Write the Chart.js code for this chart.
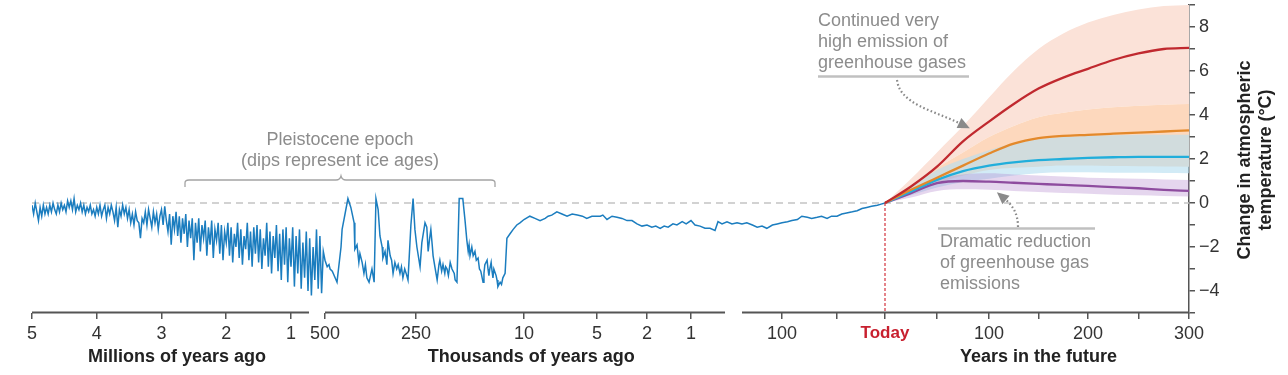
<!DOCTYPE html>
<html><head><meta charset="utf-8">
<script src="https://cdn.jsdelivr.net/npm/chart.js@4.4.1/dist/chart.umd.min.js"></script>
<style>html,body{margin:0;padding:0;background:#fff;}#wrap{width:1288px;height:375px;}</style>
</head><body><div id="wrap"><canvas id="c" width="1288" height="375"></canvas></div>
<script>
// ---------------- DATA ----------------
// Deep past: millions of years ago
const deepAgesMa = [
5.000,4.975,4.950,4.925,4.900,4.875,4.850,4.825,4.800,4.775,
4.750,4.725,4.700,4.675,4.650,4.625,4.600,4.575,4.550,4.525,
4.500,4.475,4.450,4.425,4.400,4.375,4.350,4.325,4.300,4.275,
4.250,4.225,4.200,4.175,4.150,4.125,4.100,4.075,4.050,4.025,
4.000,3.975,3.950,3.925,3.900,3.875,3.850,3.825,3.800,3.775,
3.750,3.725,3.700,3.675,3.650,3.625,3.600,3.575,3.550,3.525,
3.500,3.475,3.450,3.425,3.400,3.375,3.350,3.325,3.300,3.275,
3.250,3.225,3.200,3.175,3.150,3.125,3.100,3.075,3.050,3.025,
3.000,2.975,2.950,2.925,2.900,2.875,2.850,2.825,2.800,2.775,
2.750,2.725,2.700,2.675,2.650,2.625,2.600,2.575,2.550,2.525,
2.500,2.475,2.450,2.425,2.400,2.375,2.350,2.325,2.300,2.275,
2.250,2.225,2.200,2.175,2.150,2.125,2.100,2.075,2.050,2.025,
2.000,1.975,1.950,1.925,1.900,1.875,1.850,1.825,1.800,1.775,
1.750,1.725,1.700,1.675,1.650,1.625,1.600,1.575,1.550,1.525,
1.500,1.475,1.450,1.425,1.400,1.375,1.350,1.325,1.300,1.275,
1.250,1.225,1.200,1.175,1.150,1.125,1.100,1.075,1.050,1.025,
1.000,0.975,0.950,0.925,0.900,0.875,0.850,0.825,0.800,0.775,
0.750,0.725,0.700,0.675,0.650,0.625,0.600,0.575,0.550,0.525];
const deepTemps = [
-0.1,-0.5,0.0,-0.4,-0.8,-0.2,-0.6,-0.1,-0.5,-0.2,
-0.5,-0.1,-0.4,0.0,-0.3,-0.5,-0.1,-0.4,0.0,-0.3,
-0.1,-0.4,0.1,-0.2,0.1,-0.3,0.2,-0.4,-0.1,-0.3,
0.0,-0.4,-0.1,-0.5,-0.2,-0.4,-0.1,-0.5,-0.3,-0.6,
-0.2,-0.5,-0.1,-0.6,-0.3,-0.1,-0.7,-0.2,-0.5,-0.1,
-0.4,-0.8,-0.2,-1.1,-0.3,-0.6,-0.1,-0.5,-0.2,-0.7,
-0.3,-0.9,-0.5,-1.0,-0.4,-0.8,-0.9,-1.6,-0.7,-0.9,
-0.4,-1.0,-0.3,-0.7,-1.1,-0.4,-0.9,-0.5,-1.2,-0.6,
-0.3,-1.0,-0.15,-0.8,-1.3,-0.5,-1.9,-0.6,-1.2,-0.4,
-1.5,-0.6,-1.8,-0.7,-1.4,-0.5,-2.0,-0.8,-1.6,-0.7,
-2.6,-0.9,-1.8,-0.7,-2.2,-1.0,-1.6,-0.8,-2.4,-1.1,
-1.9,-0.8,-2.5,-1.2,-1.7,-0.9,-2.3,-1.0,-2.6,-1.3,
-1.8,-0.9,-2.4,-1.1,-2.7,-1.4,-2.0,-0.9,-2.5,-1.2,
-2.8,-1.5,-2.1,-0.9,-2.6,-1.3,-2.9,-1.1,-2.3,-1.0,
-2.7,-1.2,-3.0,-1.6,-2.4,-0.9,-2.9,-1.3,-3.2,-1.5,
-2.5,-1.0,-3.1,-1.4,-3.5,-1.2,-2.8,-1.1,-3.6,-1.6,
-2.9,-1.1,-3.8,-1.5,-3.2,-1.2,-3.9,-1.8,-3.4,-1.3,
-4.0,-1.6,-4.2,-2.0,-3.5,-1.2,-3.9,-1.5,-4.1,-2.2];

// Ice ages and Holocene: thousands of years ago
const glacialAgesKa = [
500,494,489,486,480,467,456,453,445,437,429,420,418,412,407,404,398,393,389,385,379,375,371,365,
360,354,349,343,341,335,330,327,321,317,313,308,303,299,294,290,286,281,277,272,
264,258,253,248,241,237,230,226,223,219,217,214,212,208,203,199,197,193,190,186,184,181,178,174,170,165,163,159,
154,146,141,137,134,132,130,126,123,119,116,112,109,106,101,99,97,92,90,88,86,83,81,79,77,72,70,68,63,60,57,52,
48,41,34,26,19,10,
9.6,9.25,8.9,8.55,8.35,8.1,7.75,7.4,7.05,6.7,6.35,6.0,5.7,5.35,5.0,
4.8,4.65,4.4,4.1,3.8,3.5,3.2,2.9,2.6,2.3,2.0,
1.89,1.8,1.7,1.61,1.52,1.41,1.32,1.2,1.11,1.0];
const glacialTemps = [
-2.6,-2.9,-2.8,-3.0,-3.1,-3.6,-2.0,-1.2,-0.5,0.2,-0.2,-0.9,-2.1,-1.9,-2.7,-2.3,-2.7,-3.2,-2.8,-3.4,-3.6,-3.3,-3.0,-3.6,
0.2,-0.3,-1.5,-2.0,-2.5,-2.2,-2.8,-1.7,-2.4,-2.6,-3.2,-2.7,-3.0,-2.8,-3.2,-2.9,-3.4,-3.0,-3.2,-3.5,
-1.0,0.2,-1.2,-2.0,-2.9,-1.8,-0.9,-1.1,-2.2,-1.5,-1.2,-1.9,-2.4,-2.9,-3.5,-2.8,-2.6,-3.1,-2.8,-3.2,-2.9,-3.0,-3.3,-2.7,-3.0,-3.2,-3.5,-3.6,
0.2,0.2,-0.8,-1.7,-2.2,-1.9,-2.4,-2.0,-2.4,-2.2,-2.6,-2.5,-3.0,-3.1,-3.6,-3.2,-2.8,-2.6,-3.0,-3.3,-3.0,-2.7,-3.1,-3.4,-3.0,-3.3,-3.5,-3.8,-3.6,-3.7,-3.4,-3.2,
-1.6,-1.4,-1.2,-1.0,-0.9,-0.75,
-0.6,-0.7,-0.8,-0.7,-0.6,-0.55,-0.4,-0.5,-0.6,-0.5,-0.55,-0.6,-0.7,-0.6,-0.6,
-0.6,-0.55,-0.75,-0.6,-0.65,-0.7,-0.8,-0.8,-0.95,-1.05,-1.0,
-1.1,-1.05,-1.15,-1.05,-1.1,-0.95,-1.0,-0.85,-0.95,-0.8];

// Recent past: years ago
const recentAgesYr = [933,850,767,683,600,550,483,400,317,233,150,144,137,131,125,119,112,106,100,
95,91,86,82,77,73,68,64,59,55,50,45,40,34,29,24,19,14,8,4,0];
const recentTemps = [-1.0,-1.05,-1.15,-1.15,-1.25,-0.85,-0.95,-0.85,-0.95,-0.9,-0.95,-0.9,-1.0,-1.1,-1.05,-1.15,-1.0,-0.95,-0.9,
-0.85,-0.8,-0.75,-0.6,-0.65,-0.7,-0.65,-0.6,-0.7,-0.6,-0.6,-0.5,-0.45,-0.4,-0.35,-0.25,-0.2,-0.15,-0.1,-0.05,0];

// Future projections: years in the future
const futureYears   = [0,25,50,75,100,125,150,175,200,225,250,275,300];
const veryHigh      = [0,0.75,1.65,2.8,3.7,4.5,5.2,5.7,6.1,6.5,6.8,7.0,7.05];
const veryHighUpper = [0,1.1,2.3,3.5,4.8,6.0,7.0,7.7,8.2,8.55,8.8,8.95,9.0];
const high          = [0,0.6,1.15,1.7,2.25,2.7,2.95,3.05,3.1,3.15,3.2,3.25,3.3];
const highUpper     = [0,0.8,1.6,2.3,3.0,3.5,3.9,4.1,4.25,4.35,4.42,4.47,4.5];
const highLower     = [0,0.4,0.9,1.25,1.5,1.6,1.65,1.7,1.7,1.68,1.67,1.66,1.65];
const medium        = [0,0.52,1.05,1.45,1.7,1.85,1.95,2.0,2.05,2.08,2.1,2.1,2.1];
const mediumUpper   = [0,0.7,1.5,2.0,2.4,2.7,2.9,3.0,3.05,3.08,3.1,3.1,3.1];
const mediumLower   = [0,0.35,0.7,0.95,1.1,1.25,1.35,1.4,1.4,1.38,1.37,1.36,1.35];
const low           = [0,0.45,0.9,1.0,0.97,0.92,0.87,0.82,0.78,0.72,0.67,0.6,0.55];
const lowUpper      = [0,0.6,1.1,1.3,1.35,1.3,1.25,1.2,1.15,1.12,1.1,1.07,1.05];
const lowLower      = [0,0.25,0.55,0.62,0.6,0.55,0.5,0.45,0.42,0.38,0.35,0.32,0.3];

// Tick positions (years relative to today) and labels
const xTickValues = [-5e6,-4e6,-3e6,-2e6,-1e6,-5e5,-2.5e5,-1e4,-5e3,-2e3,-1e3,-100,-50,0,50,100,150,200,250,300];
const xTickLabels = ['5','4','3','2','1','500','250','10','5','2','1','100','','Today','','100','','200','','300'];
const yTickValues = [-5,-4,-3,-2,-1,0,1,2,3,4,5,6,7,8,9];

// ---------------- SEGMENTED TIME SCALE ----------------
const X_STOPS = [[-5e6,0],[-1e6,259],[-5e5,293],[-2.5e5,384],[-1e4,492],[-5e3,565],[-2e3,615],[-1e3,659],
  [-150,710],[-100,750],[-50,805],[0,853],[100,957],[200,1056],[300,1157]];
const X_SEGMENTS = [[-5e6,-7.35e5],[-5e5,-433],[-150,300]];
const LinearBase = Chart.LinearScale || Chart.registry.getScale('linear');
class SegmentedTimeScale extends LinearBase {
  _toUnit(v) {
    const s = X_STOPS;
    if (v <= s[0][0]) return s[0][1];
    for (let i = 1; i < s.length; i++) {
      if (v <= s[i][0]) {
        const a = s[i-1], b = s[i];
        return a[1] + (v - a[0]) / (b[0] - a[0]) * (b[1] - a[1]);
      }
    }
    return s[s.length-1][1];
  }
  _fromUnit(u) {
    const s = X_STOPS;
    if (u <= s[0][1]) return s[0][0];
    for (let i = 1; i < s.length; i++) {
      if (u <= s[i][1]) {
        const a = s[i-1], b = s[i];
        return a[0] + (u - a[1]) / (b[1] - a[1]) * (b[0] - a[0]);
      }
    }
    return s[s.length-1][0];
  }
  getPixelForValue(v) {
    const total = X_STOPS[X_STOPS.length-1][1];
    return this.left + this._toUnit(v) / total * this.width;
  }
  getValueForPixel(p) {
    const total = X_STOPS[X_STOPS.length-1][1];
    return this._fromUnit((p - this.left) / this.width * total);
  }
}
SegmentedTimeScale.id = 'segmentedTime';
Chart.register(SegmentedTimeScale);

// ---------------- BUILD SERIES ----------------
const pastPoints = [];
deepAgesMa.forEach((a, i) => pastPoints.push({x: -a * 1e6, y: deepTemps[i]}));
glacialAgesKa.forEach((a, i) => pastPoints.push({x: -a * 1e3, y: glacialTemps[i]}));
recentAgesYr.forEach((a, i) => pastPoints.push({x: -a, y: recentTemps[i]}));
const fut = arr => futureYears.map((t, i) => ({x: t, y: arr[i]}));

const lineDs = (arr, color) => ({data: fut(arr), borderColor: color, borderWidth: 2.3, pointRadius: 0,
  fill: false, cubicInterpolationMode: 'monotone'});
const bandTop = (arr, color) => ({data: fut(arr), borderColor: 'transparent', borderWidth: 0, pointRadius: 0,
  backgroundColor: color, fill: '+1', cubicInterpolationMode: 'monotone'});
const bandBottom = arr => ({data: fut(arr), borderColor: 'transparent', borderWidth: 0, pointRadius: 0,
  fill: false, cubicInterpolationMode: 'monotone'});

const FONT = '"Liberation Sans", Arial, Helvetica, sans-serif';
Chart.defaults.font.family = FONT;

function dottedArrow(ctx, p0, c1, c2, p1) {
  ctx.save();
  ctx.strokeStyle = '#8a8a8a'; ctx.fillStyle = '#8a8a8a';
  ctx.lineWidth = 2.2; ctx.setLineDash([1.6, 2.4]);
  ctx.beginPath(); ctx.moveTo(p0[0], p0[1]);
  ctx.bezierCurveTo(c1[0], c1[1], c2[0], c2[1], p1[0], p1[1]); ctx.stroke();
  ctx.setLineDash([]);
  const ang = Math.atan2(p1[1] - c2[1], p1[0] - c2[0]);
  const L = 12, W = 5.5;
  const tx = p1[0] + Math.cos(ang) * L, ty = p1[1] + Math.sin(ang) * L;
  ctx.beginPath(); ctx.moveTo(tx, ty);
  ctx.lineTo(p1[0] + Math.cos(ang + Math.PI/2) * W, p1[1] + Math.sin(ang + Math.PI/2) * W);
  ctx.lineTo(p1[0] - Math.cos(ang + Math.PI/2) * W, p1[1] - Math.sin(ang + Math.PI/2) * W);
  ctx.closePath(); ctx.fill();
  ctx.restore();
}

const overlay = {
  id: 'overlay',
  beforeDatasetsDraw(chart) {
    const {ctx, chartArea: a, scales: {y}} = chart;
    const y0 = y.getPixelForValue(0);
    ctx.save();
    ctx.strokeStyle = '#c4c4c4'; ctx.lineWidth = 1.5; ctx.setLineDash([7, 5]);
    ctx.beginPath(); ctx.moveTo(a.left, y0); ctx.lineTo(a.right, y0); ctx.stroke();
    ctx.restore();
  },
  afterDatasetsDraw(chart) {
    const {ctx, chartArea: a, scales: {x, y}} = chart;
    const x0 = x.getPixelForValue(0), y0 = y.getPixelForValue(0);
    ctx.save();
    ctx.strokeStyle = '#d2323c'; ctx.lineWidth = 1.2; ctx.setLineDash([3, 2]);
    ctx.beginPath(); ctx.moveTo(x0, y0); ctx.lineTo(x0, a.bottom); ctx.stroke();
    ctx.restore();
  },
  afterDraw(chart) {
    const {ctx, chartArea: a, scales: {x}} = chart;
    ctx.save();
    // segmented x axis line
    ctx.strokeStyle = '#555'; ctx.lineWidth = 2;
    X_SEGMENTS.forEach(([s, e]) => {
      ctx.beginPath(); ctx.moveTo(x.getPixelForValue(s), a.bottom - 0.5);
      ctx.lineTo(x.getPixelForValue(e), a.bottom - 0.5); ctx.stroke();
    });
    // x axis titles
    ctx.fillStyle = '#222'; ctx.font = 'bold 18px ' + FONT; ctx.textAlign = 'center'; ctx.textBaseline = 'middle';
    [['Millions of years ago', -2.76e6], ['Thousands of years ago', -9500], ['Years in the future', 150]]
      .forEach(([t, v]) => ctx.fillText(t, x.getPixelForValue(v), 357));
    // y axis title (rotated)
    ctx.save();
    ctx.translate(a.right + 56, 160); ctx.rotate(-Math.PI / 2);
    ctx.fillText('Change in atmospheric', 0, 0);
    ctx.restore();
    ctx.save();
    ctx.translate(a.right + 77, 160); ctx.rotate(-Math.PI / 2);
    ctx.fillText('temperature (\u00B0C)', 0, 0);
    ctx.restore();

    // annotations
    ctx.fillStyle = '#8c8c8c'; ctx.font = '18px ' + FONT;
    ctx.textAlign = 'center';
    ctx.fillText('Pleistocene epoch', 340, 140);
    ctx.fillText('(dips represent ice ages)', 340, 161);
    ctx.strokeStyle = '#a4a4a4'; ctx.lineWidth = 1.3;
    ctx.beginPath();
    ctx.moveTo(185, 187); ctx.lineTo(185, 183); ctx.quadraticCurveTo(185, 180, 189, 180);
    ctx.lineTo(336, 180); ctx.quadraticCurveTo(340, 180, 341, 176); ctx.quadraticCurveTo(342, 180, 346, 180);
    ctx.lineTo(491, 180); ctx.quadraticCurveTo(495, 180, 495, 183); ctx.lineTo(495, 187);
    ctx.stroke();

    ctx.textAlign = 'left';
    ctx.fillText('Continued very', 818, 21);
    ctx.fillText('high emission of', 818, 42);
    ctx.fillText('greenhouse gases', 818, 63);
    ctx.fillText('Dramatic reduction', 940, 242);
    ctx.fillText('of greenhouse gas', 940, 263);
    ctx.fillText('emissions', 940, 284);
    ctx.strokeStyle = '#c0c0c0'; ctx.lineWidth = 2.5;
    ctx.beginPath(); ctx.moveTo(818, 76.5); ctx.lineTo(969, 76.5); ctx.stroke();
    ctx.beginPath(); ctx.moveTo(938, 228.5); ctx.lineTo(1095, 228.5); ctx.stroke();
    dottedArrow(ctx, [897, 80], [900, 104], [932, 110], [959, 123]);
    dottedArrow(ctx, [1018, 227], [1018, 214], [1013, 206], [1006, 200]);
    ctx.restore();
  }
};

new Chart(document.getElementById('c'), {
  type: 'line',
  data: {
    datasets: [
      lineDs(veryHigh, '#c0292f'),
      lineDs(high, '#e3892b'),
      lineDs(medium, '#21aedb'),
      lineDs(low, '#8e4c9f'),
      {data: pastPoints, borderColor: '#1b7dbf', borderWidth: 1.5, pointRadius: 0, fill: false, tension: 0},
      bandTop(lowUpper, 'rgba(170,120,200,0.30)'),
      bandBottom(lowLower),
      bandTop(mediumUpper, 'rgba(182,223,240,0.62)'),
      bandBottom(mediumLower),
      bandTop(highUpper, '#fdd8bd'),
      bandBottom(highLower),
      bandTop(veryHighUpper, '#fbe2d8'),
      bandBottom(highUpper)
    ]
  },
  options: {
    responsive: false,
    animation: false,
    devicePixelRatio: 1,
    layout: {padding: {left: 32, top: 5, right: 0, bottom: 0}},
    plugins: {legend: {display: false}, tooltip: {enabled: false}},
    scales: {
      x: {
        type: 'segmentedTime', min: -5e6, max: 300,
        afterBuildTicks: s => { s.ticks = xTickValues.map(v => ({value: v})); },
        afterFit: s => { s.height = 62; s.paddingLeft = 0; s.paddingRight = 0; },
        grid: {drawOnChartArea: false, drawTicks: true, tickLength: 6, color: '#555', lineWidth: 1.5},
        border: {display: false},
        ticks: {
          autoSkip: false, maxRotation: 0, minRotation: 0, padding: 4,
          callback: (v, i) => xTickLabels[i],
          color: c => (c.tick && c.tick.value === 0) ? '#c8202f' : '#333',
          font: c => (c.tick && c.tick.value === 0) ? {size: 17, weight: 'bold'} : {size: 18}
        }
      },
      y: {
        type: 'linear', position: 'right', min: -5, max: 9,
        afterBuildTicks: s => { s.ticks = yTickValues.map(v => ({value: v})); },
        afterFit: s => { s.width = 99; s.paddingTop = 0; s.paddingBottom = 0; },
        grid: {drawOnChartArea: false, drawTicks: true, tickLength: 6, color: '#555', lineWidth: 1.5},
        border: {display: true, color: '#555', width: 1.5},
        ticks: {
          autoSkip: false, padding: 4, color: '#333', font: {size: 18},
          callback: v => (v % 2 === 0) ? (v < 0 ? '\u2212' + Math.abs(v) : String(v)) : ''
        }
      }
    }
  },
  plugins: [overlay]
});
</script></body></html>
